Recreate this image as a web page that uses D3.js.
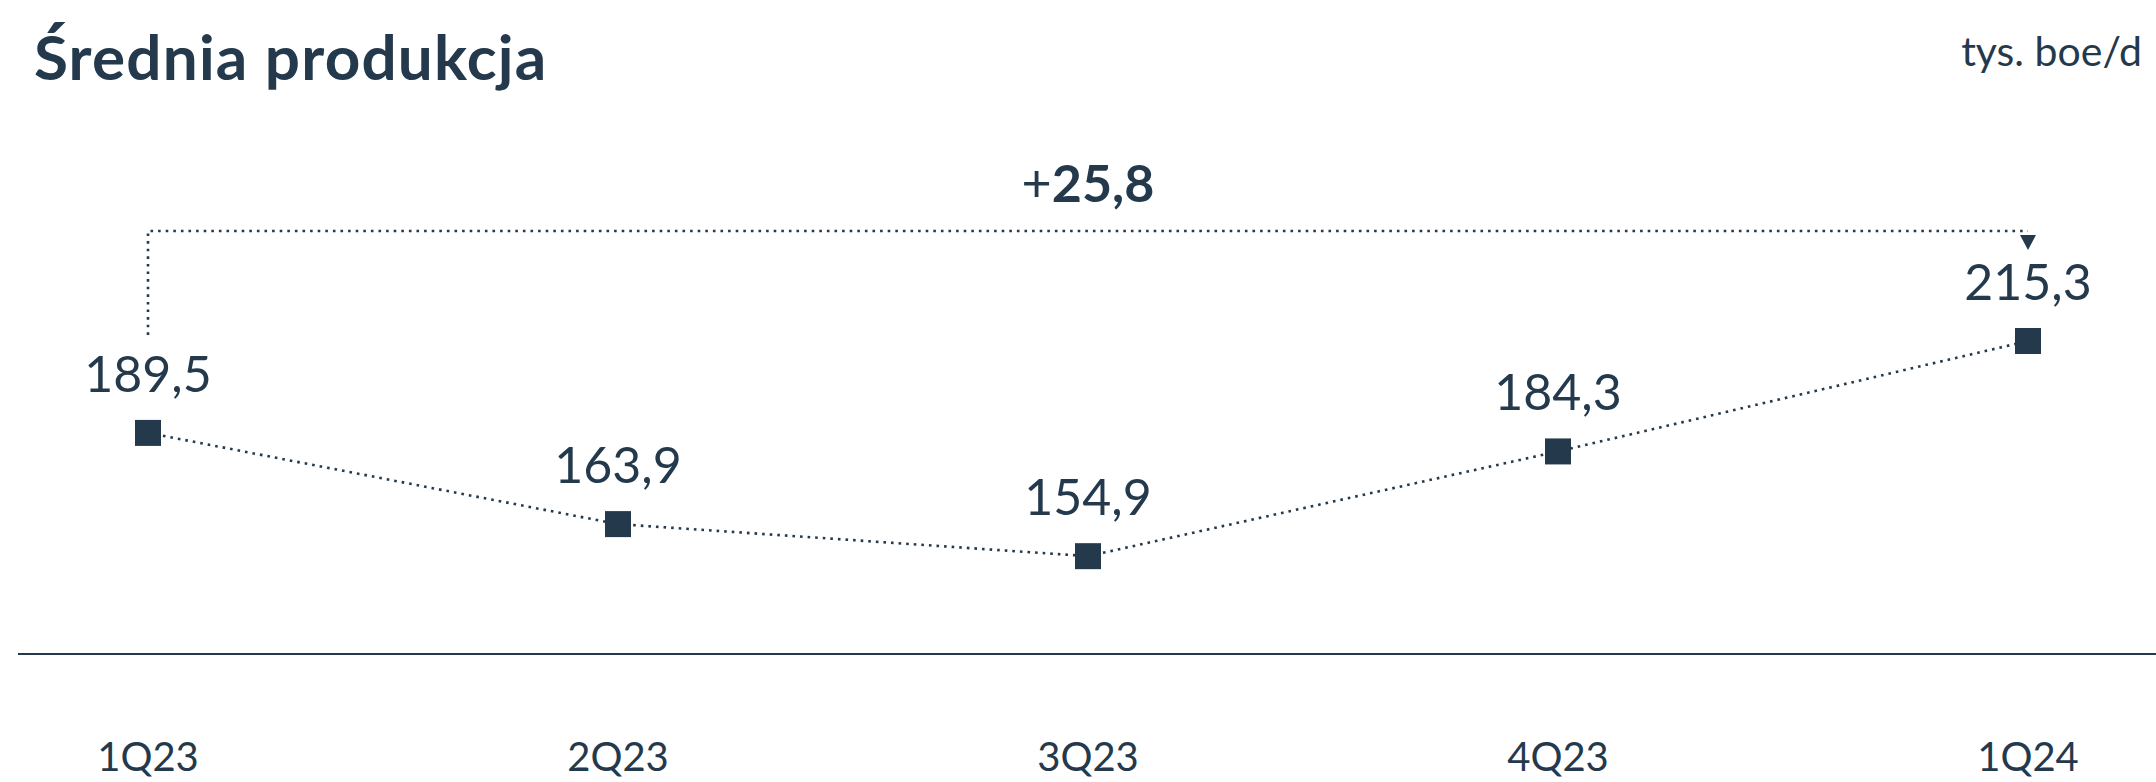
<!DOCTYPE html>
<html>
<head>
<meta charset="utf-8">
<script src="https://cdn.jsdelivr.net/npm/d3@7"></script>
<style>
  body { margin: 0; background: #fff; }
  svg { display: block; font-family: Lato, "Open Sans", sans-serif; }
</style>
</head>
<body>
<svg width="2156" height="782"></svg>
<script>
const categories = ["1Q23", "2Q23", "3Q23", "4Q23", "1Q24"];
const values = [189.5, 163.9, 154.9, 184.3, 215.3];
const valueLabels = ["189,5", "163,9", "154,9", "184,3", "215,3"];
const changeLabel = "25,8";

const svg = d3.select("svg");
const ink = "#243a4c";

// point scale for the quarters
const x = d3.scalePoint()
  .domain(categories)
  .range([148, 2028]);

// y isn't zero based, chart only shows the movement
const y = d3.scaleLinear()
  .domain([128, 215.3])
  .range([652, 341]);

// title + unit
svg.append("text")
  .attr("x", 34).attr("y", 80)
  .attr("font-size", 62).attr("font-weight", 700)
  .attr("letter-spacing", 1.2)
  .attr("fill", ink)
  .text("Średnia produkcja");

svg.append("text")
  .attr("x", 2142).attr("y", 66)
  .attr("text-anchor", "end")
  .attr("font-size", 41)
  .attr("fill", ink)
  .text("tys. boe/d");

// baseline
svg.append("line")
  .attr("x1", 18).attr("x2", 2156)
  .attr("y1", 654).attr("y2", 654)
  .attr("stroke", ink).attr("stroke-width", 2);

// bracket showing change first -> last
const x0 = x(categories[0]);
const x1 = x(categories[categories.length - 1]);
const topY = 231;
const dots = "2.6 5";

svg.append("path")
  .attr("d", `M${x0},${y(values[0]) - 98}V${topY}H${x1}`)
  .attr("fill", "none")
  .attr("stroke", ink)
  .attr("stroke-width", 2.6)
  .attr("stroke-dasharray", dots);

svg.append("path")
  .attr("d", `M${x1 - 8},${topY + 4}L${x1 + 8},${topY + 4}L${x1},${topY + 19}Z`)
  .attr("fill", ink);

const change = svg.append("text")
  .attr("x", (x0 + x1) / 2).attr("y", 202)
  .attr("text-anchor", "middle")
  .attr("font-size", 52)
  .attr("fill", ink);
change.append("tspan").text("+");
change.append("tspan").attr("font-weight", 700).text(changeLabel);

// dotted connecting line
const line = d3.line()
  .x((d, i) => x(categories[i]))
  .y((d) => y(d));

svg.append("path")
  .datum(values)
  .attr("d", line)
  .attr("fill", "none")
  .attr("stroke", ink)
  .attr("stroke-width", 2.6)
  .attr("stroke-dasharray", dots);

// square markers
const size = 26;
svg.selectAll("rect.marker")
  .data(values)
  .enter()
  .append("rect")
  .attr("class", "marker")
  .attr("x", (d, i) => x(categories[i]) - size / 2)
  .attr("y", (d) => y(d) - size / 2)
  .attr("width", size)
  .attr("height", size)
  .attr("fill", ink);

// value labels
svg.selectAll("text.value")
  .data(values)
  .enter()
  .append("text")
  .attr("class", "value")
  .attr("x", (d, i) => x(categories[i]))
  .attr("y", (d) => y(d) - 41)
  .attr("text-anchor", "middle")
  .attr("font-size", 50)
  .attr("fill", ink)
  .text((d, i) => valueLabels[i]);

// category labels
svg.selectAll("text.cat")
  .data(categories)
  .enter()
  .append("text")
  .attr("class", "cat")
  .attr("x", (d) => x(d))
  .attr("y", 771)
  .attr("text-anchor", "middle")
  .attr("font-size", 40)
  .attr("fill", ink)
  .text((d) => d);
</script>
</body>
</html>
